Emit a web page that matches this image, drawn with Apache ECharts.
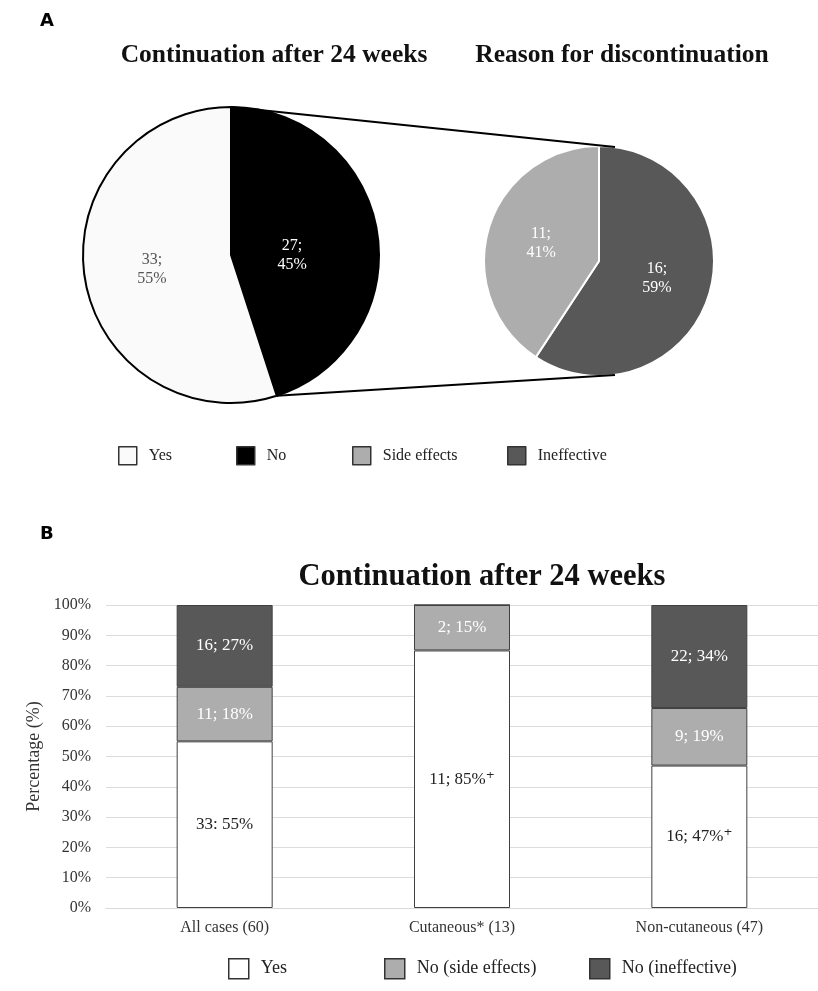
<!DOCTYPE html>
<html>
<head>
<meta charset="utf-8">
<title>Continuation after 24 weeks</title>
<script src="https://cdn.jsdelivr.net/npm/echarts@6/dist/echarts.min.js"></script>
<style>
  html, body { margin: 0; padding: 0; background: #ffffff; }
  #chart { width: 818px; height: 991px; }
</style>
</head>
<body>
<div id="chart"></div>
<script>
// ---- Panel A: continuation and reasons for discontinuation ----
const continuationNames = ['No', 'Yes'];
const continuationCounts = [27, 33];
const reasonNames = ['Ineffective', 'Side effects'];
const reasonCounts = [16, 11];

// ---- Panel B: continuation by subgroup ----
const groupLabels = ['All cases (60)', 'Cutaneous* (13)', 'Non-cutaneous (47)'];
const yesCounts = [33, 11, 16];
const yesPct = [55, 85, 47];
const yesSep = [':', ';', ';'];
const yesMark = ['', '\u207A', '\u207A'];
const sideCounts = [11, 2, 9];
const sidePct = [18, 15, 19];
const ineffCounts = [16, 0, 22];
const ineffPct = [27, 0, 34];
const yTicks = [0, 10, 20, 30, 40, 50, 60, 70, 80, 90, 100];

const SERIF = "'Liberation Serif', 'Times New Roman', 'DejaVu Serif', serif";
const SANS = "'DejaVu Sans', 'Open Sans', sans-serif";

const COL_YES = '#fafafa';
const COL_NO = '#000000';
const COL_SIDE = '#adadad';
const COL_INEFF = '#585858';

// pie layout
const PIE_L = { cx: 231, cy: 255, r: 148 };
const PIE_R = { cx: 599, cy: 261, r: 115 };
const JOIN_ANGLE = 8; // degrees past the secondary pie's top/bottom where connectors meet
// nudges for the main pie's slice labels (pulled toward the centre)
const mainLabelShift = { No: [-15, 12], Yes: [-3, 2] };

const chart = echarts.init(document.getElementById('chart'), null, { renderer: 'canvas' });

function pieLabel(counts) {
  const total = counts.reduce((a, b) => a + b, 0);
  return p => p.value + ';\n' + Math.round(p.value / total * 100) + '%';
}

// connector lines from the split edge of the main pie to the secondary pie
const noShare = continuationCounts[0] / continuationCounts.reduce((a, b) => a + b, 0);
const splitAngle = noShare * 2 * Math.PI;
const ja = JOIN_ANGLE * Math.PI / 180;
const connTop = [
  [PIE_L.cx, PIE_L.cy - PIE_L.r],
  [PIE_R.cx + PIE_R.r * Math.sin(ja), PIE_R.cy - PIE_R.r * Math.cos(ja)]
];
const connBot = [
  [PIE_L.cx + PIE_L.r * Math.sin(splitAngle), PIE_L.cy - PIE_L.r * Math.cos(splitAngle)],
  [PIE_R.cx + PIE_R.r * Math.sin(ja), PIE_R.cy + PIE_R.r * Math.cos(ja)]
];

function barLabel(counts, pct, sep, mark) {
  return p => {
    const i = p.dataIndex;
    if (!pct[i]) return '';
    return counts[i] + (sep ? sep[i] : ';') + ' ' + pct[i] + '%' + (mark ? mark[i] : '');
  };
}

function legendAt(name, left, top, size, fontSize) {
  return {
    data: [name],
    left: left,
    top: top,
    orient: 'horizontal',
    icon: 'rect',
    itemWidth: size,
    itemHeight: size,
    selectedMode: false,
    padding: 0,
    itemStyle: { borderColor: '#333333', borderWidth: 1.5 },
    textStyle: { fontFamily: SERIF, fontSize: fontSize, color: '#222222', padding: [0, 0, 0, 7] }
  };
}

const option = {
  backgroundColor: '#ffffff',
  animation: false,
  title: [
    { text: 'A', left: 40, top: 12, padding: 0,
      textStyle: { fontFamily: SANS, fontWeight: 'bold', fontSize: 18, color: '#000' } },
    { text: 'B', left: 40, top: 525, padding: 0,
      textStyle: { fontFamily: SANS, fontWeight: 'bold', fontSize: 18, color: '#000' } },
    { text: 'Continuation after 24 weeks', left: 274, top: 42, padding: 0, textAlign: 'center',
      textStyle: { fontFamily: SERIF, fontWeight: 'bold', fontSize: 25.5, color: '#111' } },
    { text: 'Reason for discontinuation', left: 622, top: 42, padding: 0, textAlign: 'center',
      textStyle: { fontFamily: SERIF, fontWeight: 'bold', fontSize: 25.5, color: '#111' } },
    { text: 'Continuation after 24 weeks', left: 482, top: 562, padding: 0, textAlign: 'center',
      textStyle: { fontFamily: SERIF, fontWeight: 'bold', fontSize: 30.5, color: '#111' } }
  ],
  legend: [
    legendAt('Yes', 118, 446, 18, 16),
    legendAt('No', 236, 446, 18, 16),
    legendAt('Side effects', 352, 446, 18, 16),
    legendAt('Ineffective', 507, 446, 18, 16),
    legendAt('Yes ', 228, 958, 20, 18),
    legendAt('No (side effects)', 384, 958, 20, 18),
    legendAt('No (ineffective)', 589, 958, 20, 18)
  ],
  grid: { left: 106, width: 720, top: 605, bottom: 83, containLabel: false },
  xAxis: {
    type: 'category',
    data: groupLabels,
    axisLine: { show: true, lineStyle: { color: '#d9d9d9', width: 1 } },
    axisTick: { show: false },
    axisLabel: { fontFamily: SERIF, fontSize: 16, color: '#333', margin: 12 }
  },
  yAxis: {
    type: 'value',
    min: 0, max: 100, interval: 10,
    name: 'Percentage (%)',
    nameLocation: 'middle',
    nameRotate: 90,
    nameGap: 57,
    nameTextStyle: { fontFamily: SERIF, fontSize: 18, color: '#333' },
    axisLine: { show: false },
    axisTick: { show: false },
    splitLine: { lineStyle: { color: '#dcdcdc', width: 1 } },
    axisLabel: {
      fontFamily: SERIF, fontSize: 16, color: '#333', margin: 15,
      formatter: v => (yTicks.indexOf(v) >= 0 ? v + '%' : '')
    }
  },
  graphic: [
    { type: 'line', silent: true, z: 10,
      shape: { x1: connTop[0][0], y1: connTop[0][1], x2: connTop[1][0], y2: connTop[1][1] },
      style: { stroke: '#000', lineWidth: 2 } },
    { type: 'line', silent: true, z: 10,
      shape: { x1: connBot[0][0], y1: connBot[0][1], x2: connBot[1][0], y2: connBot[1][1] },
      style: { stroke: '#000', lineWidth: 2 } }
  ],
  series: [
    {
      type: 'pie',
      name: 'Continuation',
      center: [PIE_L.cx, PIE_L.cy],
      radius: PIE_L.r,
      startAngle: 90,
      clockwise: true,
      silent: true,
      itemStyle: { borderColor: '#000', borderWidth: 2 },
      label: {
        position: 'inside',
        formatter: pieLabel(continuationCounts),
        fontFamily: SERIF, fontSize: 16, lineHeight: 19
      },
      labelLine: { show: false },
      labelLayout: p => {
        const s = mainLabelShift[continuationNames[p.dataIndex]] || [0, 0];
        return { dx: s[0], dy: s[1] };
      },
      data: continuationNames.map((n, i) => ({
        name: n,
        value: continuationCounts[i],
        itemStyle: { color: n === 'No' ? COL_NO : COL_YES },
        label: { color: n === 'No' ? '#ffffff' : '#555555' }
      }))
    },
    {
      type: 'pie',
      name: 'Reason',
      center: [PIE_R.cx, PIE_R.cy],
      radius: PIE_R.r,
      startAngle: 90,
      clockwise: true,
      silent: true,
      itemStyle: { borderColor: '#ffffff', borderWidth: 2 },
      label: {
        position: 'inside',
        formatter: pieLabel(reasonCounts),
        fontFamily: SERIF, fontSize: 16, lineHeight: 19, color: '#ffffff'
      },
      labelLine: { show: false },
      data: reasonNames.map((n, i) => ({
        name: n,
        value: reasonCounts[i],
        itemStyle: { color: n === 'Ineffective' ? COL_INEFF : COL_SIDE }
      }))
    },
    {
      type: 'bar',
      name: 'Yes ',
      stack: 'total',
      barWidth: 96,
      itemStyle: { color: '#ffffff', borderColor: '#404040', borderWidth: 1 },
      label: { show: true, position: 'inside', formatter: barLabel(yesCounts, yesPct, yesSep, yesMark),
        fontFamily: SERIF, fontSize: 17, color: '#222' },
      data: yesPct
    },
    {
      type: 'bar',
      name: 'No (side effects)',
      stack: 'total',
      barWidth: 96,
      itemStyle: { color: COL_SIDE, borderColor: '#404040', borderWidth: 1 },
      label: { show: true, position: 'inside', formatter: barLabel(sideCounts, sidePct),
        fontFamily: SERIF, fontSize: 17, color: '#ffffff' },
      data: sidePct
    },
    {
      type: 'bar',
      name: 'No (ineffective)',
      stack: 'total',
      barWidth: 96,
      itemStyle: { color: COL_INEFF, borderColor: '#404040', borderWidth: 1 },
      label: { show: true, position: 'inside', formatter: barLabel(ineffCounts, ineffPct),
        fontFamily: SERIF, fontSize: 17, color: '#ffffff' },
      data: ineffPct
    }
  ]
};

chart.setOption(option);
</script>
</body>
</html>
